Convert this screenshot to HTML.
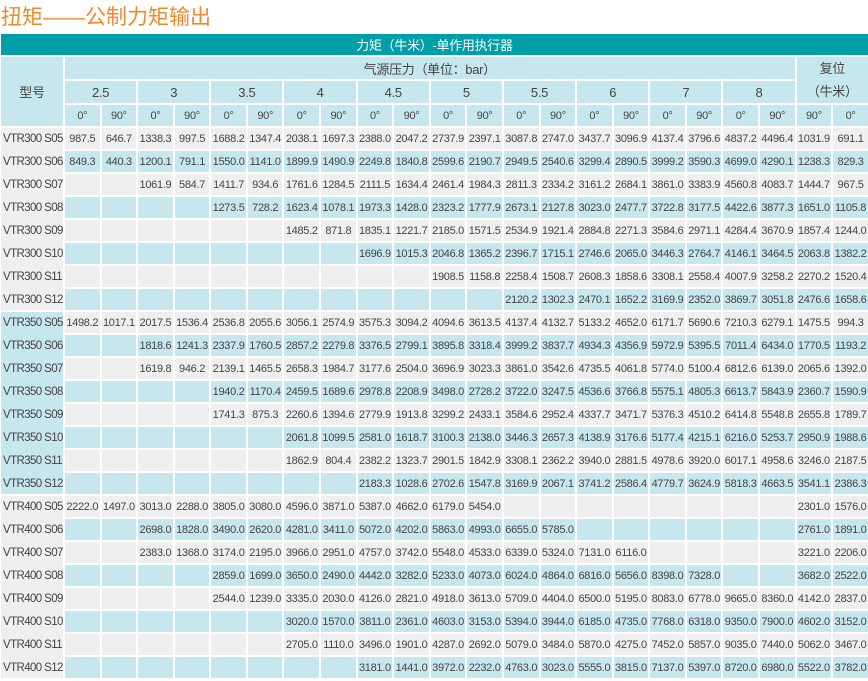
<!DOCTYPE html>
<html><head><meta charset="utf-8">
<style>
html,body{margin:0;padding:0;background:#fff;width:868px;height:681px;overflow:hidden;}
body{position:relative;font-family:"Liberation Sans","Noto Sans CJK SC",sans-serif;}
.title{position:absolute;left:1px;top:1px;font-size:21px;color:#ef8a2c;font-family:"Liberation Sans","Noto Sans CJK SC",sans-serif;}
table{position:absolute;left:-1px;top:32px;width:871px;table-layout:fixed;border-collapse:separate;border-spacing:2px;}
td{height:21px;padding:0;text-align:center;font-size:11px;color:#444;letter-spacing:-0.3px;white-space:nowrap;overflow:hidden;}
tr.g td{background:#efefef;}
tr.b td{background:#c7e7ee;}
td.h{background:#c7e7ee;color:#444;font-size:13px;}
td.hs{background:#c7e7ee;font-size:11px;}
td.top{background:#009fa8;color:#fff;font-size:13px;}
td.m{text-align:left;padding-left:2px;font-size:11.5px;letter-spacing:-0.6px;overflow:visible;}
tr td.mg{background:#efefef;box-shadow:0 2px 0 #efefef;}
tr td.mb{background:#c7e7ee;box-shadow:0 2px 0 #c7e7ee;}
tr td.last{box-shadow:none;}
</style></head><body>
<div class="title">扭矩——公制力矩输出</div>
<table>
<colgroup><col style="width:62px"><col span="22"></colgroup>
<tr><td class="top" colspan="23">力矩（牛米）-单作用执行器</td></tr>
<tr><td class="h" rowspan="3">型号</td><td class="h" colspan="20">气源压力（单位：bar）</td><td class="h" colspan="2" rowspan="2" style="line-height:23px">复位<br>（牛米）</td></tr>
<tr><td class="h" colspan="2">2.5</td><td class="h" colspan="2">3</td><td class="h" colspan="2">3.5</td><td class="h" colspan="2">4</td><td class="h" colspan="2">4.5</td><td class="h" colspan="2">5</td><td class="h" colspan="2">5.5</td><td class="h" colspan="2">6</td><td class="h" colspan="2">7</td><td class="h" colspan="2">8</td></tr>
<tr><td class="hs">0°</td><td class="hs">90°</td><td class="hs">0°</td><td class="hs">90°</td><td class="hs">0°</td><td class="hs">90°</td><td class="hs">0°</td><td class="hs">90°</td><td class="hs">0°</td><td class="hs">90°</td><td class="hs">0°</td><td class="hs">90°</td><td class="hs">0°</td><td class="hs">90°</td><td class="hs">0°</td><td class="hs">90°</td><td class="hs">0°</td><td class="hs">90°</td><td class="hs">0°</td><td class="hs">90°</td><td class="hs">90°</td><td class="hs">0°</td></tr>

<tr class="g"><td class="m mg">VTR300 S05</td><td>987.5</td><td>646.7</td><td>1338.3</td><td>997.5</td><td>1688.2</td><td>1347.4</td><td>2038.1</td><td>1697.3</td><td>2388.0</td><td>2047.2</td><td>2737.9</td><td>2397.1</td><td>3087.8</td><td>2747.0</td><td>3437.7</td><td>3096.9</td><td>4137.4</td><td>3796.6</td><td>4837.2</td><td>4496.4</td><td>1031.9</td><td>691.1</td></tr>
<tr class="b"><td class="m mg">VTR300 S06</td><td>849.3</td><td>440.3</td><td>1200.1</td><td>791.1</td><td>1550.0</td><td>1141.0</td><td>1899.9</td><td>1490.9</td><td>2249.8</td><td>1840.8</td><td>2599.6</td><td>2190.7</td><td>2949.5</td><td>2540.6</td><td>3299.4</td><td>2890.5</td><td>3999.2</td><td>3590.3</td><td>4699.0</td><td>4290.1</td><td>1238.3</td><td>829.3</td></tr>
<tr class="g"><td class="m mg">VTR300 S07</td><td></td><td></td><td>1061.9</td><td>584.7</td><td>1411.7</td><td>934.6</td><td>1761.6</td><td>1284.5</td><td>2111.5</td><td>1634.4</td><td>2461.4</td><td>1984.3</td><td>2811.3</td><td>2334.2</td><td>3161.2</td><td>2684.1</td><td>3861.0</td><td>3383.9</td><td>4560.8</td><td>4083.7</td><td>1444.7</td><td>967.5</td></tr>
<tr class="b"><td class="m mg">VTR300 S08</td><td></td><td></td><td></td><td></td><td>1273.5</td><td>728.2</td><td>1623.4</td><td>1078.1</td><td>1973.3</td><td>1428.0</td><td>2323.2</td><td>1777.9</td><td>2673.1</td><td>2127.8</td><td>3023.0</td><td>2477.7</td><td>3722.8</td><td>3177.5</td><td>4422.6</td><td>3877.3</td><td>1651.0</td><td>1105.8</td></tr>
<tr class="g"><td class="m mg">VTR300 S09</td><td></td><td></td><td></td><td></td><td></td><td></td><td>1485.2</td><td>871.8</td><td>1835.1</td><td>1221.7</td><td>2185.0</td><td>1571.5</td><td>2534.9</td><td>1921.4</td><td>2884.8</td><td>2271.3</td><td>3584.6</td><td>2971.1</td><td>4284.4</td><td>3670.9</td><td>1857.4</td><td>1244.0</td></tr>
<tr class="b"><td class="m mg">VTR300 S10</td><td></td><td></td><td></td><td></td><td></td><td></td><td></td><td></td><td>1696.9</td><td>1015.3</td><td>2046.8</td><td>1365.2</td><td>2396.7</td><td>1715.1</td><td>2746.6</td><td>2065.0</td><td>3446.3</td><td>2764.7</td><td>4146.1</td><td>3464.5</td><td>2063.8</td><td>1382.2</td></tr>
<tr class="g"><td class="m mg">VTR300 S11</td><td></td><td></td><td></td><td></td><td></td><td></td><td></td><td></td><td></td><td></td><td>1908.5</td><td>1158.8</td><td>2258.4</td><td>1508.7</td><td>2608.3</td><td>1858.6</td><td>3308.1</td><td>2558.4</td><td>4007.9</td><td>3258.2</td><td>2270.2</td><td>1520.4</td></tr>
<tr class="b"><td class="m mg last">VTR300 S12</td><td></td><td></td><td></td><td></td><td></td><td></td><td></td><td></td><td></td><td></td><td></td><td></td><td>2120.2</td><td>1302.3</td><td>2470.1</td><td>1652.2</td><td>3169.9</td><td>2352.0</td><td>3869.7</td><td>3051.8</td><td>2476.6</td><td>1658.6</td></tr>

<tr class="g"><td class="m mb">VTR350 S05</td><td>1498.2</td><td>1017.1</td><td>2017.5</td><td>1536.4</td><td>2536.8</td><td>2055.6</td><td>3056.1</td><td>2574.9</td><td>3575.3</td><td>3094.2</td><td>4094.6</td><td>3613.5</td><td>4137.4</td><td>4132.7</td><td>5133.2</td><td>4652.0</td><td>6171.7</td><td>5690.6</td><td>7210.3</td><td>6279.1</td><td>1475.5</td><td>994.3</td></tr>
<tr class="b"><td class="m mb">VTR350 S06</td><td></td><td></td><td>1818.6</td><td>1241.3</td><td>2337.9</td><td>1760.5</td><td>2857.2</td><td>2279.8</td><td>3376.5</td><td>2799.1</td><td>3895.8</td><td>3318.4</td><td>3999.2</td><td>3837.7</td><td>4934.3</td><td>4356.9</td><td>5972.9</td><td>5395.5</td><td>7011.4</td><td>6434.0</td><td>1770.5</td><td>1193.2</td></tr>
<tr class="g"><td class="m mb">VTR350 S07</td><td></td><td></td><td>1619.8</td><td>946.2</td><td>2139.1</td><td>1465.5</td><td>2658.3</td><td>1984.7</td><td>3177.6</td><td>2504.0</td><td>3696.9</td><td>3023.3</td><td>3861.0</td><td>3542.6</td><td>4735.5</td><td>4061.8</td><td>5774.0</td><td>5100.4</td><td>6812.6</td><td>6139.0</td><td>2065.6</td><td>1392.0</td></tr>
<tr class="b"><td class="m mb">VTR350 S08</td><td></td><td></td><td></td><td></td><td>1940.2</td><td>1170.4</td><td>2459.5</td><td>1689.6</td><td>2978.8</td><td>2208.9</td><td>3498.0</td><td>2728.2</td><td>3722.0</td><td>3247.5</td><td>4536.6</td><td>3766.8</td><td>5575.1</td><td>4805.3</td><td>6613.7</td><td>5843.9</td><td>2360.7</td><td>1590.9</td></tr>
<tr class="g"><td class="m mb">VTR350 S09</td><td></td><td></td><td></td><td></td><td>1741.3</td><td>875.3</td><td>2260.6</td><td>1394.6</td><td>2779.9</td><td>1913.8</td><td>3299.2</td><td>2433.1</td><td>3584.6</td><td>2952.4</td><td>4337.7</td><td>3471.7</td><td>5376.3</td><td>4510.2</td><td>6414.8</td><td>5548.8</td><td>2655.8</td><td>1789.7</td></tr>
<tr class="b"><td class="m mb">VTR350 S10</td><td></td><td></td><td></td><td></td><td></td><td></td><td>2061.8</td><td>1099.5</td><td>2581.0</td><td>1618.7</td><td>3100.3</td><td>2138.0</td><td>3446.3</td><td>2657.3</td><td>4138.9</td><td>3176.6</td><td>5177.4</td><td>4215.1</td><td>6216.0</td><td>5253.7</td><td>2950.9</td><td>1988.6</td></tr>
<tr class="g"><td class="m mb">VTR350 S11</td><td></td><td></td><td></td><td></td><td></td><td></td><td>1862.9</td><td>804.4</td><td>2382.2</td><td>1323.7</td><td>2901.5</td><td>1842.9</td><td>3308.1</td><td>2362.2</td><td>3940.0</td><td>2881.5</td><td>4978.6</td><td>3920.0</td><td>6017.1</td><td>4958.6</td><td>3246.0</td><td>2187.5</td></tr>
<tr class="b"><td class="m mb last">VTR350 S12</td><td></td><td></td><td></td><td></td><td></td><td></td><td></td><td></td><td>2183.3</td><td>1028.6</td><td>2702.6</td><td>1547.8</td><td>3169.9</td><td>2067.1</td><td>3741.2</td><td>2586.4</td><td>4779.7</td><td>3624.9</td><td>5818.3</td><td>4663.5</td><td>3541.1</td><td>2386.3</td></tr>

<tr class="g"><td class="m mg">VTR400 S05</td><td>2222.0</td><td>1497.0</td><td>3013.0</td><td>2288.0</td><td>3805.0</td><td>3080.0</td><td>4596.0</td><td>3871.0</td><td>5387.0</td><td>4662.0</td><td>6179.0</td><td>5454.0</td><td></td><td></td><td></td><td></td><td></td><td></td><td></td><td></td><td>2301.0</td><td>1576.0</td></tr>
<tr class="b"><td class="m mg">VTR400 S06</td><td></td><td></td><td>2698.0</td><td>1828.0</td><td>3490.0</td><td>2620.0</td><td>4281.0</td><td>3411.0</td><td>5072.0</td><td>4202.0</td><td>5863.0</td><td>4993.0</td><td>6655.0</td><td>5785.0</td><td></td><td></td><td></td><td></td><td></td><td></td><td>2761.0</td><td>1891.0</td></tr>
<tr class="g"><td class="m mg">VTR400 S07</td><td></td><td></td><td>2383.0</td><td>1368.0</td><td>3174.0</td><td>2195.0</td><td>3966.0</td><td>2951.0</td><td>4757.0</td><td>3742.0</td><td>5548.0</td><td>4533.0</td><td>6339.0</td><td>5324.0</td><td>7131.0</td><td>6116.0</td><td></td><td></td><td></td><td></td><td>3221.0</td><td>2206.0</td></tr>
<tr class="b"><td class="m mg">VTR400 S08</td><td></td><td></td><td></td><td></td><td>2859.0</td><td>1699.0</td><td>3650.0</td><td>2490.0</td><td>4442.0</td><td>3282.0</td><td>5233.0</td><td>4073.0</td><td>6024.0</td><td>4864.0</td><td>6816.0</td><td>5656.0</td><td>8398.0</td><td>7328.0</td><td></td><td></td><td>3682.0</td><td>2522.0</td></tr>
<tr class="g"><td class="m mg">VTR400 S09</td><td></td><td></td><td></td><td></td><td>2544.0</td><td>1239.0</td><td>3335.0</td><td>2030.0</td><td>4126.0</td><td>2821.0</td><td>4918.0</td><td>3613.0</td><td>5709.0</td><td>4404.0</td><td>6500.0</td><td>5195.0</td><td>8083.0</td><td>6778.0</td><td>9665.0</td><td>8360.0</td><td>4142.0</td><td>2837.0</td></tr>
<tr class="b"><td class="m mg">VTR400 S10</td><td></td><td></td><td></td><td></td><td></td><td></td><td>3020.0</td><td>1570.0</td><td>3811.0</td><td>2361.0</td><td>4603.0</td><td>3153.0</td><td>5394.0</td><td>3944.0</td><td>6185.0</td><td>4735.0</td><td>7768.0</td><td>6318.0</td><td>9350.0</td><td>7900.0</td><td>4602.0</td><td>3152.0</td></tr>
<tr class="g"><td class="m mg">VTR400 S11</td><td></td><td></td><td></td><td></td><td></td><td></td><td>2705.0</td><td>1110.0</td><td>3496.0</td><td>1901.0</td><td>4287.0</td><td>2692.0</td><td>5079.0</td><td>3484.0</td><td>5870.0</td><td>4275.0</td><td>7452.0</td><td>5857.0</td><td>9035.0</td><td>7440.0</td><td>5062.0</td><td>3467.0</td></tr>
<tr class="b"><td class="m mg last">VTR400 S12</td><td></td><td></td><td></td><td></td><td></td><td></td><td></td><td></td><td>3181.0</td><td>1441.0</td><td>3972.0</td><td>2232.0</td><td>4763.0</td><td>3023.0</td><td>5555.0</td><td>3815.0</td><td>7137.0</td><td>5397.0</td><td>8720.0</td><td>6980.0</td><td>5522.0</td><td>3782.0</td></tr>
</table>
</body></html>
